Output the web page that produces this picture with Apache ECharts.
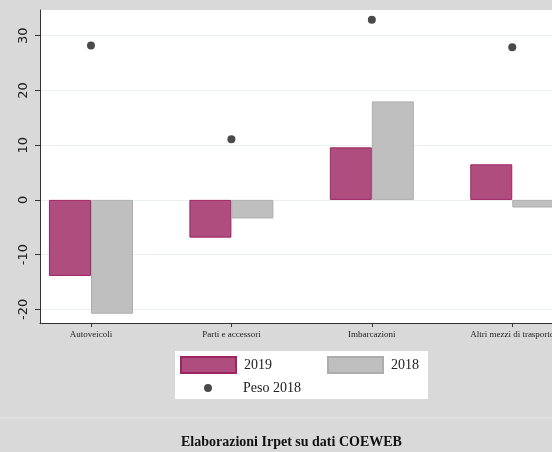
<!DOCTYPE html>
<html><head><meta charset="utf-8">
<script src="https://cdn.jsdelivr.net/npm/echarts@6/dist/echarts.min.js"></script>
<style>html,body{margin:0;padding:0;background:#d9d9d9;}#c{width:552px;height:452px;}</style>
</head><body><div id="c"></div>
<script>
const categories = ['Autoveicoli', 'Parti e accessori', 'Imbarcazioni', 'Altri mezzi di trasporto'];
const values2019 = [-13.9, -6.9, 9.6, 6.5];
const values2018 = [-20.8, -3.4, 18.0, -1.4];
const peso2018 = [28.2, 11.1, 32.9, 27.9];
const yTicks = [-20, -10, 0, 10, 20, 30];

const pos = categories.map((c, i) => i + 1);
const chart = echarts.init(document.getElementById('c'), null, {renderer: 'canvas'});
const serif = 'Liberation Serif';
chart.setOption({
  backgroundColor: '#d9d9d9',
  animation: false,
  grid: {left: 40, top: 10, right: 0, bottom: 129, show: true, backgroundColor: '#ffffff', borderWidth: 0,
         containLabel: false, outerBoundsMode: 'none'},
  xAxis: {
    type: 'value', min: 0.637, max: 4.283,
    axisLine: {show: true, onZero: false, lineStyle: {color: '#333', width: 1}},
    axisTick: {show: true, length: 4, customValues: pos, lineStyle: {color: '#333'}},
    axisLabel: {customValues: pos, formatter: v => categories[Math.round(v) - 1] || '', fontFamily: serif, fontSize: 9, color: '#222', margin: 7},
    splitLine: {show: false}
  },
  yAxis: {
    type: 'value', min: -22.5, max: 34.7,
    axisLine: {show: true, lineStyle: {color: '#333', width: 1}},
    axisTick: {show: true, length: 5, customValues: yTicks, lineStyle: {color: '#333'}},
    axisLabel: {customValues: yTicks, rotate: 90, fontFamily: 'DejaVu Sans', fontSize: 13, color: '#222', margin: 10},
    splitLine: {show: true, lineStyle: {color: '#eaf0f0', width: 1}}
  },
  legend: [
    {
      data: [{name: '2019', icon: 'rect'}, {name: '2018', icon: 'rect'}], left: 175, top: 351,
      padding: [5, 9, 25, 5], itemGap: 55, itemWidth: 55, itemHeight: 16,
      backgroundColor: '#ffffff', borderWidth: 0,
      textStyle: {fontFamily: serif, fontSize: 14, color: '#222', padding: [0, 0, 0, 3]},
      selectedMode: false
    },
    {
      data: [{name: 'Peso 2018', icon: 'circle'}], left: 204, top: 381, itemWidth: 8, itemHeight: 8, padding: 0,
      textStyle: {fontFamily: serif, fontSize: 14, color: '#222', padding: [0, 0, 0, 26]},
      selectedMode: false
    }
  ],
  graphic: [
    {type: 'line', shape: {x1: 0, y1: 418, x2: 552, y2: 418}, style: {stroke: '#e4e4e4', lineWidth: 1}},
    {type: 'text', left: 181, top: 435, style: {text: 'Elaborazioni Irpet su dati COEWEB', font: 'bold 14px "Liberation Serif"', fill: '#111'}}
  ],
  series: [
    {
      name: '2019', type: 'bar', barWidth: 42, barGap: '0%',
      data: values2019.map((v, i) => [pos[i], v]),
      itemStyle: {color: '#b04d7f', borderColor: '#9e2462', borderWidth: 1}
    },
    {
      name: '2018', type: 'bar', barWidth: 42, barGap: '0%',
      data: values2018.map((v, i) => [pos[i], v]),
      itemStyle: {color: '#bfbfbf', borderColor: '#adadad', borderWidth: 1}
    },
    {
      name: 'Peso 2018', type: 'scatter', symbol: 'circle', symbolSize: 8,
      data: peso2018.map((v, i) => [pos[i], v]),
      itemStyle: {color: '#4a4a4a', opacity: 1}
    }
  ]
});
</script></body></html>
